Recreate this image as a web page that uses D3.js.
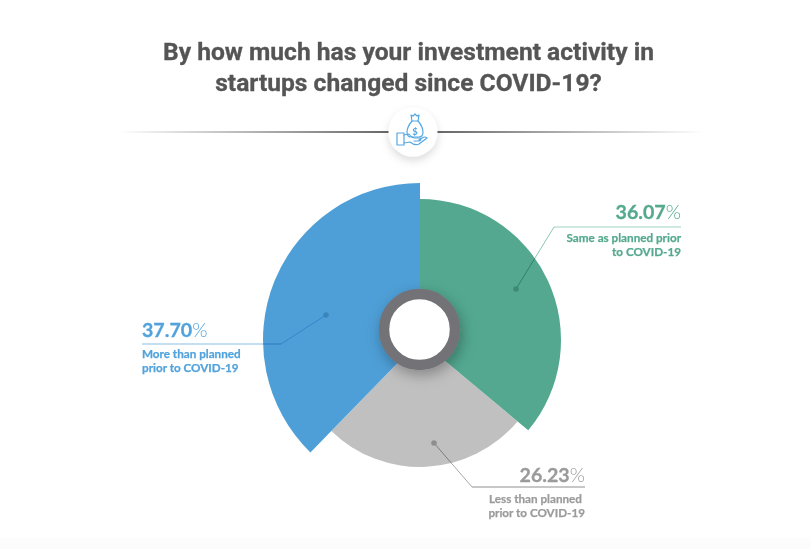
<!DOCTYPE html>
<html>
<head>
<meta charset="utf-8">
<script src="https://cdn.jsdelivr.net/npm/d3@7"></script>
<style>
  html, body { margin: 0; padding: 0; background: #fff; }
  svg { display: block; }
</style>
</head>
<body>
<script>
var width = 810;
var height = 549;

var titleLines = ["By how much has your investment activity in", "startups changed since COVID-19?"];
var categories = ["Same as planned prior to COVID-19", "Less than planned prior to COVID-19", "More than planned prior to COVID-19"];
var values = [36.07, 26.23, 37.70];
var colors = ["#53a88f", "#c0c0c0", "#4e9fd7"];
var textColors = ["#55a98f", "#9b9b9b", "#52a3dc"];
var radii = [141, 127, 157];

var labelLines = [
  ["Same as planned prior", "to COVID-19"],
  ["Less than planned", "prior to COVID-19"],
  ["More than planned", "prior to COVID-19"]
];

var svg = d3.select("body").append("svg")
  .attr("width", width)
  .attr("height", height);

var defs = svg.append("defs");

var ringShadow = defs.append("filter").attr("id", "ring-shadow")
  .attr("x", "-50%").attr("y", "-50%").attr("width", "200%").attr("height", "200%");
ringShadow.append("feDropShadow")
  .attr("dx", 2).attr("dy", 5).attr("stdDeviation", 7)
  .attr("flood-color", "#000").attr("flood-opacity", 0.3);

var badgeShadow = defs.append("filter").attr("id", "badge-shadow")
  .attr("x", "-50%").attr("y", "-50%").attr("width", "200%").attr("height", "200%");
badgeShadow.append("feDropShadow")
  .attr("dx", 0).attr("dy", 4).attr("stdDeviation", 4)
  .attr("flood-color", "#000").attr("flood-opacity", 0.14);

function _rule_gradient(id, from, to) {
  var g = defs.append("linearGradient").attr("id", id);
  g.append("stop").attr("offset", "0%").attr("stop-color", "#666").attr("stop-opacity", from);
  g.append("stop").attr("offset", "100%").attr("stop-color", "#666").attr("stop-opacity", to);
}
_rule_gradient("rule-left", 0, 1);
_rule_gradient("rule-right", 1, 0);

// faint off-white strip along the bottom
svg.append("rect").attr("x", 0).attr("y", 538).attr("width", width).attr("height", 11).attr("fill", "#fcfcfc");

// title
svg.append("g").selectAll("text")
  .data(titleLines)
  .enter().append("text")
  .attr("x", 408.5)
  .attr("y", function (d, i) { return 60 + i * 31; })
  .attr("text-anchor", "middle")
  .attr("font-family", "Roboto")
  .attr("font-weight", 700)
  .attr("font-size", 24.6)
  .attr("fill", "#555")
  .attr("stroke", "#555")
  .attr("stroke-width", 0.3)
  .text(function (d) { return d; });

// divider and icon badge
svg.append("rect").attr("x", 118).attr("y", 131).attr("width", 272).attr("height", 2).attr("fill", "url(#rule-left)");
svg.append("rect").attr("x", 436).attr("y", 131).attr("width", 268).attr("height", 2).attr("fill", "url(#rule-right)");
svg.append("circle").attr("cx", 413).attr("cy", 132).attr("r", 24.5).attr("fill", "#fff").attr("filter", "url(#badge-shadow)");

var icon = svg.append("g")
  .attr("transform", "translate(413,132)")
  .attr("fill", "none")
  .attr("stroke", "#55a8e2")
  .attr("stroke-width", 1.2)
  .attr("stroke-linejoin", "round")
  .attr("stroke-linecap", "round");
icon.append("path").attr("d", "M-1,-11 Q-6,-5 -6,0 Q-6,5 -2,5 L6,5 Q10,5 10,0 Q10,-5 5,-11 Z");
icon.append("path").attr("d", "M-1,-11 L-2,-17 L0,-16 L2,-18 L4,-16 L6,-17 L5,-11");
icon.append("path").attr("d", "M-16,1 L-9,1 L-9,13 L-16,13 Z");
icon.append("path").attr("d", "M-9,3 L-4,2 Q-1,6 2,6 L7,6 Q9,8 6,9 L1,9 M-9,11 L-3,10 Q2,14 6,12 L14,6 Q12,4 9,6 L6,8");
icon.append("text")
  .attr("x", 2).attr("y", 2.5)
  .attr("text-anchor", "middle")
  .attr("font-family", "Lato")
  .attr("font-weight", 700)
  .attr("font-size", 9.5)
  .attr("fill", "#55a8e2")
  .attr("stroke", "none")
  .text("$");

// pie
var pieCenter = [420, 340];
var pie = d3.pie().sort(null).value(function (d) { return d; });
var arc = d3.arc().innerRadius(0).outerRadius(function (d) { return radii[d.index]; });
var arcs = pie(values);

// blue sits on top of its neighbours
var drawOrder = [1, 0, 2];
svg.append("g")
  .attr("transform", "translate(" + pieCenter[0] + "," + pieCenter[1] + ")")
  .selectAll("path")
  .data(drawOrder.map(function (i) { return arcs[i]; }))
  .enter().append("path")
  .attr("d", arc)
  .attr("fill", function (d) { return colors[d.index]; });

// center ring
svg.append("circle")
  .attr("cx", 419.5).attr("cy", 329.5).attr("r", 35.5)
  .attr("fill", "#fff")
  .attr("stroke", "#737277")
  .attr("stroke-width", 10.5)
  .attr("filter", "url(#ring-shadow)");

// leader lines and labels
var leaders = [
  [[516, 289], [554, 227], [681, 227]],
  [[434, 443], [472, 487], [585, 487]],
  [[326, 315], [281, 344], [142, 344]]
];
var anchors = ["end", "end", "start"];
var dotColors = ["#3f8a74", "#8e8e8e", "#3a86ba"];
var diagColors = ["#8cc6b4", "#a8a8a8", "#b0d5ee"];
var ruleColors = ["#bfe0d6", "#b4b4b4", "#b0d5ee"];
var pctOffsets = [-8.5, -5.5, -7];
var firstLineOffsets = [15, 16, 13.5];
var firstLineShift = [0, -3, 0];
var line = d3.line();

arcs.forEach(function (d, i) {
  var pts = leaders[i];
  var end = pts[2];
  var g = svg.append("g");

  // multiply so the line goes darker where it crosses a slice
  g.append("path")
    .attr("d", line([pts[0], pts[1]]))
    .attr("fill", "none")
    .attr("stroke", diagColors[i])
    .attr("stroke-width", 1)
    .style("mix-blend-mode", "multiply");
  g.append("path")
    .attr("d", line([pts[1], pts[2]]))
    .attr("fill", "none")
    .attr("stroke", ruleColors[i])
    .attr("stroke-width", 1.4)
    .style("mix-blend-mode", "multiply");
  g.append("circle")
    .attr("cx", pts[0][0]).attr("cy", pts[0][1]).attr("r", 2.8)
    .attr("fill", dotColors[i]);

  var pct = g.append("text")
    .attr("x", end[0])
    .attr("y", end[1] + pctOffsets[i])
    .attr("text-anchor", anchors[i])
    .attr("font-family", "Lato")
    .attr("font-size", 19.6)
    .attr("fill", textColors[i]);
  pct.append("tspan")
    .attr("font-weight", 700)
    .attr("stroke", textColors[i])
    .attr("stroke-width", 0.3)
    .text(values[i].toFixed(2));
  pct.append("tspan").attr("font-weight", 300).text("%");

  g.selectAll("text.cat")
    .data(labelLines[i])
    .enter().append("text")
    .attr("class", "cat")
    .attr("x", function (t, k) { return end[0] + (k == 0 ? firstLineShift[i] : 0); })
    .attr("y", function (t, k) { return end[1] + firstLineOffsets[i] + k * 14.3; })
    .attr("text-anchor", anchors[i])
    .attr("font-family", "Lato")
    .attr("font-weight", 700)
    .attr("font-size", 11.7)
    .attr("fill", textColors[i])
    .attr("stroke", textColors[i])
    .attr("stroke-width", 0.25)
    .text(function (t) { return t; });
});
</script>
</body>
</html>
